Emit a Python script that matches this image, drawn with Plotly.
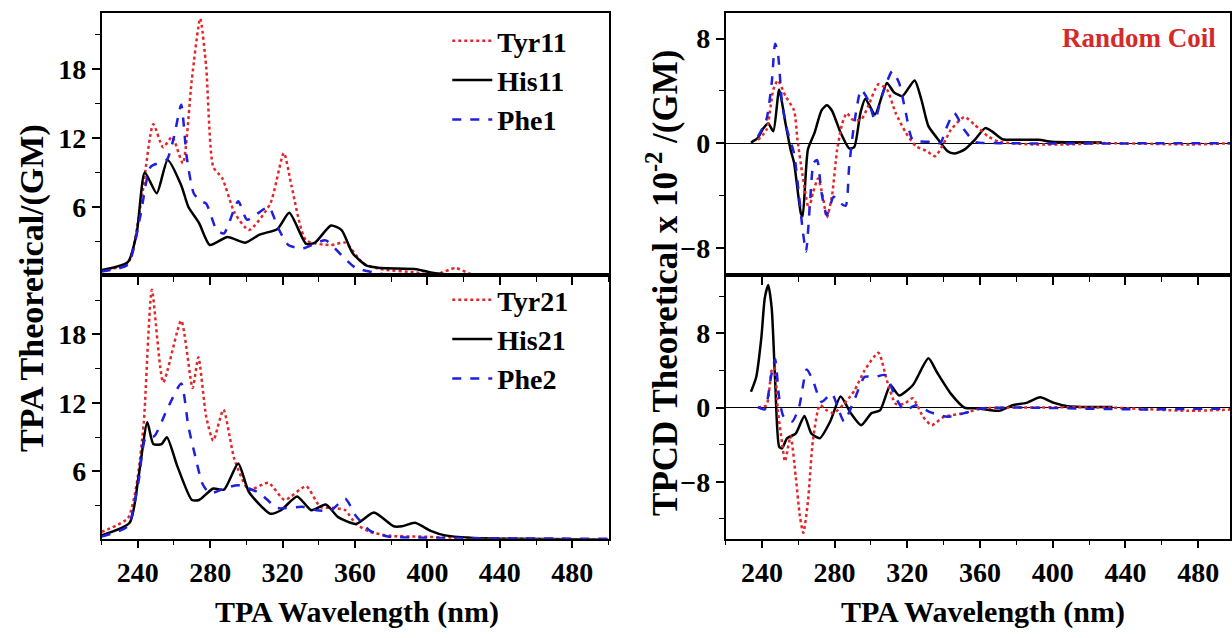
import plotly.graph_objects as go

# ---------------- data ----------------
# Top-left: TPA, set 1
tyr11_x = [220, 234.5, 242, 248.6, 254, 259, 264.9, 269.8, 274.5, 277.8, 281.7, 286.7, 293.5, 301.4, 313.2, 320.7, 325, 333, 346.7, 354.6, 364.5, 374.3, 394, 404, 415.7, 423.6, 449, 500]
tyr11_y = [0.5, 1.1, 6.6, 13.2, 11.2, 12.1, 9.8, 17.0, 22.4, 18.2, 9.5, 8.5, 5.5, 4.0, 6.3, 10.7, 7.8, 3.1, 2.7, 2.9, 1.1, 0.6, 0.3, 0.1, 0.7, 0.2, 0.0, 0.0]
his11_x = [220, 234.5, 239.4, 243.9, 250.5, 256.5, 264, 268, 273.9, 279.8, 289.6, 299.4, 307.3, 317.2, 323.7, 333, 337.9, 346.7, 352.6, 358.6, 366.4, 374.3, 394, 401.8, 413.6, 450, 500]
his11_y = [0.5, 1.2, 3.7, 9.0, 7.2, 10.1, 7.9, 6.0, 4.6, 2.7, 3.4, 2.9, 3.6, 4.1, 5.5, 2.8, 2.9, 4.4, 4.0, 2.0, 0.9, 0.7, 0.6, 0.3, 0.1, 0.05, 0.0]
phe1_x = [220, 234.5, 241.4, 247.2, 256, 260, 264, 267, 270.9, 274.8, 277.8, 283.6, 287.6, 295.5, 300.4, 312.3, 317.2, 323.1, 331, 343.8, 352.6, 360.5, 374.3, 382, 500]
phe1_y = [0.4, 1.0, 5.2, 9.5, 10.1, 12.1, 14.9, 10.4, 7.2, 6.5, 6.3, 4.0, 3.7, 6.5, 4.9, 6.0, 4.3, 2.7, 2.4, 3.1, 1.8, 0.7, 0.2, 0.0, 0.0]

# Bottom-left: TPA, set 2
tyr21_x = [220, 234.5, 239.4, 243.3, 247.8, 254.1, 264, 270.3, 273.5, 277.8, 281.7, 287.3, 293.5, 301.4, 312.2, 321.1, 333, 340.8, 348.7, 354.6, 360.5, 368.4, 380.2, 395, 413.6, 449, 500]
tyr21_y = [0.7, 1.9, 4.9, 10.2, 21.9, 13.8, 19.2, 13.3, 16.0, 10.8, 8.7, 11.4, 7.0, 4.4, 5.0, 3.5, 4.7, 2.9, 2.8, 2.6, 1.4, 0.7, 0.35, 0.3, 0.2, 0.1, 0.0]
his21_x = [220, 235.5, 240.4, 245.3, 248.6, 253.2, 256.1, 262, 269.9, 273.9, 281.7, 287.6, 295.5, 301.4, 313.2, 319.1, 328, 335.9, 343.8, 350.7, 360.5, 370.4, 381.3, 386, 393.1, 401.8, 409.7, 423.6, 449, 500]
his21_y = [0.4, 1.5, 5.5, 10.3, 8.4, 8.4, 9.0, 6.4, 3.5, 3.5, 4.5, 4.4, 6.7, 4.2, 2.3, 2.6, 3.8, 2.6, 3.1, 2.0, 1.4, 2.4, 1.2, 1.2, 1.5, 0.8, 0.4, 0.2, 0.1, 0.05]
phe2_x = [220, 234.5, 240.4, 244.3, 249.2, 256.1, 264, 267.9, 271.8, 275.8, 279.8, 289.6, 295.5, 307.3, 317.2, 331, 338.9, 346.7, 354.6, 360.5, 368.4, 378.2, 395, 500]
phe2_y = [0.3, 1.2, 5.1, 8.9, 9.1, 11.4, 13.7, 10.0, 7.3, 4.9, 4.1, 4.6, 4.8, 4.1, 2.8, 2.9, 2.6, 2.6, 3.6, 2.1, 0.8, 0.3, 0.2, 0.1]

# Top-right: TPCD, set 1 (x 10^-2 GM)
his11cd_x = [234, 237.8, 240.6, 243.5, 246.3, 249.5, 253, 255.8, 257.7, 261.5, 262.4, 265.3, 269, 272.8, 275.7, 278.5, 283.3, 288, 290.8, 294.2, 296.9, 302.2, 308.8, 312.6, 317.3, 324, 327.8, 331.6, 336.3, 342, 345.8, 351.4, 357.1, 362.8, 366.6, 372.3, 379.8, 392.2, 399.7, 427]
his11cd_y = [0.05, 0.4, 1.1, 1.5, 0.9, 4.1, 1.5, -0.5, -1.5, -5.4, -5.6, -0.5, 0.8, 2.5, 2.9, 2.5, 0.8, -0.4, -0.3, 2.3, 3.4, 2.2, 4.6, 3.9, 3.6, 4.8, 3.3, 1.3, 0.4, -0.6, -0.8, -0.5, 0.25, 1.15, 0.9, 0.3, 0.25, 0.25, 0.1, 0.05]
tyr11cd_x = [237.8, 242.5, 246.3, 248.8, 253, 257.7, 259.6, 262.4, 265.8, 268.1, 270.9, 273.8, 275.7, 278.5, 281.4, 284.2, 286.7, 289.9, 294.6, 298.4, 304.1, 308.8, 313.6, 319.2, 324.9, 330.6, 335.3, 340.1, 343.9, 351.4, 357.1, 364.7, 370.4, 389.3, 408.3, 427, 476.4, 500]
tyr11cd_y = [0.25, 1.0, 4.1, 4.8, 3.6, 2.5, 0.25, -2.5, -5.0, -3.8, -2.7, -4.3, -5.7, -4.1, -0.5, 1.5, 2.3, 1.8, 1.8, 2.8, 4.5, 4.1, 2.3, 0.8, -0.25, -0.6, -1.0, 0.0, 1.0, 2.0, 1.4, 0.5, 0.1, -0.1, -0.1, 0.0, -0.1, 0.0]
phe1cd_x = [237.8, 242.5, 245.4, 247.3, 248.8, 251.1, 253.9, 257.7, 260.5, 262.4, 264.3, 266.6, 268.5, 270.4, 272.8, 275.7, 279.5, 283.3, 286.1, 288, 290.8, 294.6, 298.4, 302.2, 306, 311.7, 315.5, 319.2, 323, 332.5, 338.2, 341, 345.8, 351.4, 357.1, 370, 500]
phe1cd_y = [0.5, 1.8, 4.6, 7.6, 6.9, 3.1, 1.0, -0.8, -4.1, -6.6, -8.3, -4.3, -1.5, -1.3, -3.8, -5.5, -4.1, -4.6, -4.8, -1.8, 1.5, 4.1, 3.3, 1.8, 3.6, 5.5, 4.6, 2.3, 0.25, 0.1, 0.0, 1.0, 2.3, 1.0, 0.1, 0.0, 0.0]

# Bottom-right: TPCD, set 2 (x 10^-2 GM)
his21cd_x = [234, 236.9, 239.7, 241.6, 243.5, 245.4, 247.3, 249.5, 251.1, 253.9, 258.6, 263.4, 267.2, 271.9, 277.6, 283.3, 288.9, 294.6, 300.3, 305, 310.7, 315.5, 323, 331.6, 336.3, 343.9, 351.4, 359, 370.4, 377.9, 385.5, 393.1, 400.7, 408.3, 432.9]
his21cd_y = [1.7, 3.3, 7.5, 11.8, 13.2, 10.7, 2.9, -4.2, -4.4, -3.3, -2.8, -0.9, -2.8, -3.3, -1.5, 1.2, -0.6, -1.9, -0.6, -0.3, 2.4, 1.3, 2.4, 5.3, 3.8, 1.5, 0.0, -0.1, -0.35, 0.25, 0.5, 1.1, 0.5, 0.15, 0.05]
tyr21cd_x = [237.8, 242.5, 245.4, 246.9, 248.8, 251.1, 252.7, 255.8, 258.6, 260.9, 262.8, 265.3, 268.1, 271.9, 275.7, 279.5, 285.2, 290.8, 296.5, 304.1, 308.8, 313.6, 318.3, 323, 328.7, 333.4, 340.1, 351.4, 360.9, 380, 430, 474.5, 500]
tyr21cd_y = [0.0, 0.25, 4.0, 4.3, -0.3, -3.8, -5.8, -3.1, -7.4, -11.7, -13.5, -10.2, -3.5, 0.25, -0.3, -0.6, 0.4, 1.8, 4.0, 5.9, 2.9, 0.4, 0.4, 1.0, -1.0, -1.9, -1.0, -0.6, -0.1, 0.0, 0.0, -0.35, -0.2]
phe2cd_x = [237.8, 241.6, 245, 247.3, 249.5, 252, 256.7, 260.5, 264.7, 268.1, 272.8, 278.5, 282.3, 285.2, 290.8, 296.5, 302.2, 307.9, 313.6, 318.3, 324.9, 332.5, 342, 351.4, 360.9, 380, 446, 500]
phe2cd_y = [0.05, -0.2, 3.3, 5.2, 1.1, -1.0, -1.5, 0.1, 4.1, 2.9, 0.6, 1.5, -0.3, -1.5, 0.8, 3.3, 3.3, 3.5, 1.1, -0.3, 0.25, -0.5, -1.0, -0.6, -0.1, 0.0, -0.2, -0.1]

x_ticks = [240, 280, 320, 360, 400, 440, 480]
tpa_ticks = [6, 12, 18]
tpcd_ticks = [-8, 0, 8]

# ---------------- styling ----------------
FONT = "Liberation Serif"
RED = "#e3262a"
BLACK = "#000000"
BLUE = "#1f1fe0"
W, H = 1232, 638

def px_x(p):
    return p / W

def px_y(p):
    return 1 - p / H

fig = go.Figure()

def add(x, y, color, dash, width, xa, ya, name=None, legend=None):
    fig.add_trace(go.Scatter(
        x=x, y=y, mode="lines", name=name,
        line=dict(color=color, dash=dash, width=width, shape="spline", smoothing=0.6),
        xaxis=xa, yaxis=ya,
        showlegend=legend is not None,
        legend=legend if legend else "legend",
    ))

add(tyr11_x, tyr11_y, RED, "dot", 2.5, "x", "y", "Tyr11", "legend")
add(his11_x, his11_y, BLACK, "solid", 2.5, "x", "y", "His11", "legend")
add(phe1_x, phe1_y, BLUE, "dash", 2.5, "x", "y", "Phe1", "legend")

add(tyr21_x, tyr21_y, RED, "dot", 2.5, "x2", "y2", "Tyr21", "legend2")
add(his21_x, his21_y, BLACK, "solid", 2.5, "x2", "y2", "His21", "legend2")
add(phe2_x, phe2_y, BLUE, "dash", 2.5, "x2", "y2", "Phe2", "legend2")

add(his11cd_x, his11cd_y, BLACK, "solid", 2.5, "x3", "y3")
add(tyr11cd_x, tyr11cd_y, RED, "dot", 2.5, "x3", "y3")
add(phe1cd_x, phe1cd_y, BLUE, "dash", 2.5, "x3", "y3")

add(his21cd_x, his21cd_y, BLACK, "solid", 2.5, "x4", "y4")
add(tyr21cd_x, tyr21cd_y, RED, "dot", 2.5, "x4", "y4")
add(phe2cd_x, phe2cd_y, BLUE, "dash", 2.5, "x4", "y4")

tickfont = dict(family=FONT, size=28, color="black", weight="bold")

left_dom = [px_x(101.7), px_x(609.5)]
right_dom = [px_x(726.7), 1.0]
top_dom = [px_y(275), px_y(12.7)]
bot_dom = [px_y(538.7), px_y(275)]

def xaxis(dom, anchor, rng, labels):
    return dict(
        domain=dom, anchor=anchor, range=rng,
        tickvals=x_ticks, showticklabels=labels, tickfont=tickfont,
        ticks="outside", ticklen=8, tickwidth=1.5, tickcolor="black",
        minor=dict(dtick=20, tick0=220, ticks="outside", ticklen=5, tickwidth=1.2, tickcolor="black"),
        showline=True, linecolor="black", linewidth=1.5, mirror=True,
        showgrid=False, zeroline=False,
    )

def yaxis(dom, anchor, rng, tv, minor_dtick, zl):
    return dict(
        domain=dom, anchor=anchor, range=rng,
        tickvals=tv, tickfont=tickfont,
        ticks="outside", ticklen=8, tickwidth=1.5, tickcolor="black",
        minor=dict(dtick=minor_dtick, tick0=0, ticks="outside", ticklen=5, tickwidth=1.2, tickcolor="black"),
        showline=True, linecolor="black", linewidth=1.5, mirror=True,
        showgrid=False, zeroline=zl, zerolinecolor="black", zerolinewidth=1.2,
    )

legend_common = dict(
    font=dict(family=FONT, size=28, color="black", weight="bold"),
    bgcolor="rgba(0,0,0,0)", borderwidth=0,
    xanchor="left", yanchor="top", itemwidth=40, tracegroupgap=0,
)

fig.update_layout(
    width=W, height=H,
    margin=dict(l=0, r=0, t=0, b=0),
    paper_bgcolor="white", plot_bgcolor="white",
    font=dict(family=FONT, color="black"),
    xaxis=xaxis(left_dom, "y", [220, 500], False),
    yaxis=yaxis(top_dom, "x", [0.09, 22.9], tpa_ticks, 3, False),
    xaxis2=xaxis(left_dom, "y2", [220, 500], True),
    yaxis2=yaxis(bot_dom, "x2", [0.11, 23.2], tpa_ticks, 3, False),
    xaxis3=xaxis(right_dom, "y3", [220, 497.5], False),
    yaxis3=yaxis(top_dom, "x3", [-10.09, 9.98], tpcd_ticks, 4, True),
    xaxis4=xaxis(right_dom, "y4", [220, 497.5], True),
    yaxis4=yaxis(bot_dom, "x4", [-14.13, 14.28], tpcd_ticks, 4, True),
    legend=dict(x=px_x(448), y=px_y(16), **legend_common),
    legend2=dict(x=px_x(448), y=px_y(275), **legend_common),
    showlegend=True,
)

title_font_x = dict(family=FONT, size=30, color="black", weight="bold")
title_font_y = dict(family=FONT, size=34, color="black", weight="bold")
title_font_y2 = dict(family=FONT, size=35, color="black", weight="bold")

fig.add_annotation(text="TPA Wavelength (nm)", x=px_x(358), y=px_y(612), xref="paper", yref="paper",
                   showarrow=False, font=title_font_x, xanchor="center", yanchor="middle")
fig.add_annotation(text="TPA Wavelength (nm)", x=px_x(985), y=px_y(612), xref="paper", yref="paper",
                   showarrow=False, font=title_font_x, xanchor="center", yanchor="middle")
fig.add_annotation(text="TPA Theoretical/(GM)", x=px_x(32), y=px_y(288), xref="paper", yref="paper",
                   showarrow=False, font=title_font_y, textangle=-90, xanchor="center", yanchor="middle")
fig.add_annotation(text="TPCD Theoretical x 10<sup>-2</sup> /(GM)", x=px_x(664), y=px_y(283), xref="paper", yref="paper",
                   showarrow=False, font=title_font_y2, textangle=-90, xanchor="center", yanchor="middle")
fig.add_annotation(text="Random Coil", x=px_x(1141), y=px_y(38), xref="paper", yref="paper",
                   showarrow=False, font=dict(family=FONT, size=27, color="#d42a2a", weight="bold"),
                   xanchor="center", yanchor="middle")

fig.write_html("out.html")
